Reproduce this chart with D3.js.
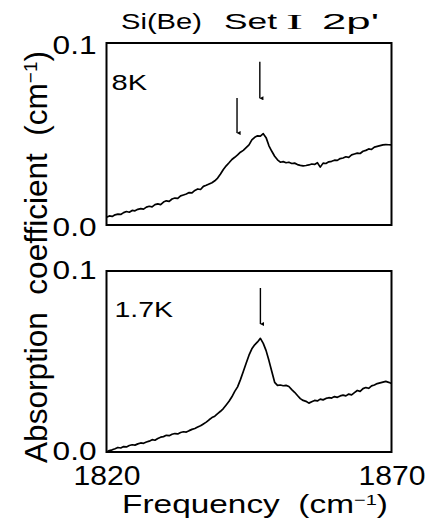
<!DOCTYPE html>
<html><head><meta charset="utf-8">
<script src="https://cdn.jsdelivr.net/npm/d3@7"></script>
<style>
body{margin:0;background:#fff}
svg{display:block}
text{font-family:"Liberation Sans",Arial,Helvetica,sans-serif;fill:#000}
</style>
</head><body>
<svg id="c" width="431" height="529"></svg>
<script>
// ---------- data ----------
const freq = [1820,1820.5,1821,1821.5,1822,1822.5,1823,1823.5,1824,1824.5,1825,1825.5,1826,1826.5,1827,1827.5,1828,1828.5,1829,1829.5,
1830,1830.5,1831,1831.5,1832,1832.5,1833,1833.5,1834,1834.5,1835,1835.5,1836,1836.5,1837,1837.5,1838,1838.5,1839,1839.5,
1840,1840.5,1841,1841.5,1842,1842.5,1843,1843.5,1844,1844.5,1845,1845.5,1846,1846.5,1847,1847.5,1848,1848.5,1849,1849.5,
1850,1850.5,1851,1851.5,1852,1852.5,1853,1853.5,1854,1854.5,1855,1855.5,1856,1856.5,1857,1857.5,1858,1858.5,1859,1859.5,
1860,1860.5,1861,1861.5,1862,1862.5,1863,1863.5,1864,1864.5,1865,1865.5,1866,1866.5,1867,1867.5,1868,1868.5,1869,1869.5,1870];

const abs8K = [0.0042,0.0050,0.0047,0.0056,0.0060,0.0058,0.0068,0.0074,0.0070,0.0080,0.0078,0.0086,0.0090,0.0087,0.0098,0.0103,0.0100,0.0112,0.0116,0.0112,
0.0126,0.0133,0.0130,0.0143,0.0148,0.0146,0.0160,0.0165,0.0170,0.0178,0.0176,0.0190,0.0198,0.0195,0.0212,0.0218,0.0225,0.0232,0.0243,0.0258,
0.0280,0.0305,0.0325,0.0342,0.0360,0.0372,0.0385,0.0400,0.0410,0.0425,0.0440,0.0468,0.0482,0.0490,0.0488,0.0502,0.0480,0.0435,0.0405,0.0378,
0.0358,0.0345,0.0348,0.0342,0.0345,0.0338,0.0340,0.0332,0.0328,0.0325,0.0327,0.0330,0.0335,0.0333,0.0342,0.0318,0.0340,0.0338,0.0347,0.0350,
0.0356,0.0355,0.0365,0.0368,0.0375,0.0372,0.0385,0.0390,0.0395,0.0393,0.0405,0.0410,0.0418,0.0415,0.0428,0.0432,0.0436,0.0440,0.0442,0.0441,0.0440];

const abs17K = [0.0000,0.0008,0.0012,0.0018,0.0025,0.0022,0.0030,0.0028,0.0036,0.0040,0.0038,0.0045,0.0050,0.0048,0.0055,0.0060,0.0068,0.0065,0.0075,0.0082,
0.0085,0.0092,0.0090,0.0098,0.0102,0.0100,0.0108,0.0112,0.0110,0.0118,0.0125,0.0130,0.0138,0.0145,0.0155,0.0165,0.0178,0.0190,0.0198,0.0212,
0.0225,0.0240,0.0260,0.0280,0.0305,0.0335,0.0360,0.0400,0.0445,0.0490,0.0535,0.0570,0.0592,0.0608,0.0628,0.0600,0.0560,0.0505,0.0445,0.0385,
0.0368,0.0370,0.0366,0.0368,0.0362,0.0345,0.0330,0.0312,0.0295,0.0285,0.0280,0.0270,0.0278,0.0285,0.0282,0.0292,0.0288,0.0296,0.0300,0.0298,
0.0306,0.0302,0.0310,0.0314,0.0310,0.0320,0.0316,0.0328,0.0340,0.0335,0.0350,0.0356,0.0352,0.0365,0.0370,0.0378,0.0382,0.0386,0.0390,0.0385,0.0378];

const xTickValues = [1820, 1870];
const yTickValues = [0, 0.1];
const yTickLabels = ["0.0", "0.1"];
const arrowFreq8K = [1842.9, 1846.9];
const arrowTop8K = [0.0698, 0.0897];
const arrowBot8K = [0.0505, 0.0696];
const arrowFreq17K = [1847.0];
const arrowTop17K = [0.0906];
const arrowBot17K = [0.0707];
const panelLabels = ["8K", "1.7K"];

// ---------- helpers ----------
function widthOf(node){ return node.getBBox().width; }

// ---------- drawing ----------
const svg = d3.select("#c");
svg.append("defs").append("marker")
  .attr("id","ah").attr("viewBox","0 0 10 10").attr("refX",5).attr("refY",9)
  .attr("markerWidth",4).attr("markerHeight",5).attr("markerUnits","userSpaceOnUse")
  .attr("orient","auto-start-reverse")
  .append("path").attr("d","M0,0 L10,0 L5,10 Z").attr("fill","#000");

const x = d3.scaleLinear().domain([1820, 1870]).range([106.5, 391.5]);

const panels = [
  {data: abs8K, top: 43, bottom: 225, label: panelLabels[0], lx: 111.5, ly: 90, lw: 36, tdy: "0.42em",
   af: arrowFreq8K, at: arrowTop8K, ab: arrowBot8K, showX: false},
  {data: abs17K, top: 271, bottom: 452, label: panelLabels[1], lx: 114.5, ly: 317, lw: 59, tdy: "0.3em",
   af: arrowFreq17K, at: arrowTop17K, ab: arrowBot17K, showX: true}
];

panels.forEach(p => {
  const y = d3.scaleLinear().domain([0, 0.1]).range([p.bottom, p.top]);
  const g = svg.append("g");

  const line = d3.line().x((d,i) => x(freq[i])).y(d => y(d));
  g.append("path").datum(p.data).attr("d", line)
    .attr("fill","none").attr("stroke","#000").attr("stroke-width",1.7)
    .attr("stroke-linejoin","round");

  g.append("rect").attr("x", x(1820)).attr("y", p.top)
    .attr("width", x(1870)-x(1820)).attr("height", p.bottom-p.top)
    .attr("fill","none").attr("stroke","#000").attr("stroke-width",2);

  const ya = g.append("g").attr("transform",`translate(${x(1820)},0)`)
    .call(d3.axisLeft(y).tickValues(yTickValues).tickFormat((d,i)=>yTickLabels[i]).tickSize(0).tickPadding(10));
  ya.select(".domain").remove();
  ya.selectAll("text").attr("font-size",25).attr("dy",p.tdy)
    .style("font-family",'"Liberation Sans",Arial,sans-serif')
    .each(function(){
      const s = 44 / widthOf(this);
      d3.select(this).attr("x", -10 / s).attr("transform", `scale(${s},1)`);
    });

  if (p.showX) {
    const xa = g.append("g").attr("transform",`translate(0,${p.bottom})`)
      .call(d3.axisBottom(x).tickValues(xTickValues).tickFormat(d3.format("d")).tickSize(0).tickPadding(13));
    xa.select(".domain").remove();
    xa.selectAll("text").attr("font-size",28)
      .style("font-family",'"Liberation Sans",Arial,sans-serif')
      .each(function(){
        const s = 67 / widthOf(this);
        d3.select(this).attr("transform", `scale(${s},1)`);
      });
  }

  const lg = g.append("g");
  const lt = lg.append("text").attr("font-size",22).text(p.label);
  lg.attr("transform", `translate(${p.lx},${p.ly}) scale(${p.lw / widthOf(lt.node())},1)`);

  p.af.forEach((f,i) => {
    g.append("line").attr("x1",x(f)).attr("x2",x(f)).attr("y1",y(p.at[i])).attr("y2",y(p.ab[i]))
      .attr("stroke","#000").attr("stroke-width",1.4).attr("marker-end","url(#ah)");
  });
});

// title
const titleParts = [
  {t:"Si(Be)", x:121, w:81, serif:false},
  {t:"Set", x:224, w:53, serif:false},
  {t:"I", x:286, w:17, serif:true},
  {t:"2p'", x:322, w:57, serif:false}
];
titleParts.forEach(tp => {
  const tg = svg.append("g");
  const tt = tg.append("text").attr("font-size",22)
    .style("font-family", tp.serif ? '"Liberation Serif","DejaVu Serif",serif' : null)
    .text(tp.t);
  tg.attr("transform", `translate(${tp.x},28.5) scale(${tp.w / widthOf(tt.node())},1)`);
});

function unitText(g, main) {
  const t = g.append("text").attr("text-anchor","middle").style("white-space","pre");
  t.append("tspan").text(main);
  t.append("tspan").attr("font-size","0.6em").attr("dy","-0.55em").text("\u22121");
  t.append("tspan").attr("dy","0.33em").text(")");
  return t;
}

// x label
const xl = svg.append("g");
const xt = unitText(xl, "Frequency  (cm").attr("font-size",25);
xl.attr("transform",`translate(255,513) scale(${266 / widthOf(xt.node())},1)`);

// y label
const yl = svg.append("g");
const yt = unitText(yl, "Absorption  coefficient  (cm").attr("font-size",31);
yl.attr("transform",`translate(47,257) rotate(-90) scale(${412 / widthOf(yt.node())},1)`);
</script>
</body></html>
